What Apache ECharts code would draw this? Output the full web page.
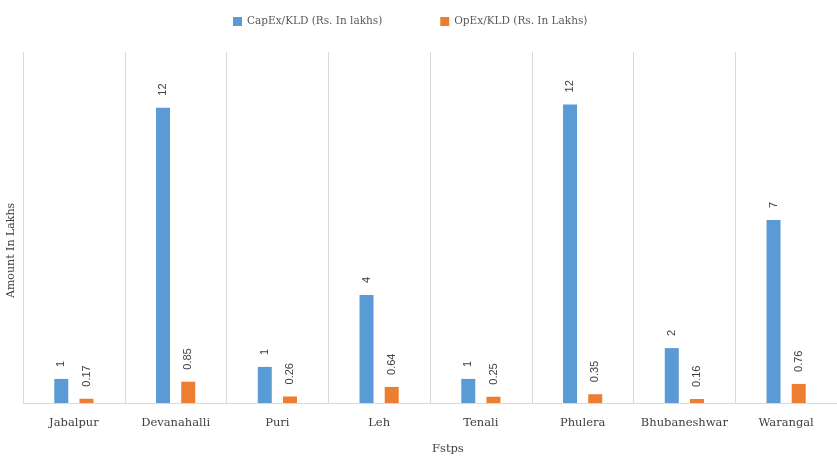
<!DOCTYPE html>
<html>
<head>
<meta charset="utf-8">
<script src="https://cdn.jsdelivr.net/npm/echarts@6/dist/echarts.min.js"></script>
<style>
html,body{margin:0;padding:0;background:#fff;}
#chart{width:837px;height:456px;}
</style>
</head>
<body>
<div id="chart"></div>
<script>
var categories = ["Jabalpur","Devanahalli","Puri","Leh","Tenali","Phulera","Bhubaneshwar","Warangal"];
var capexValues = [0.96, 11.78, 1.44, 4.31, 0.96, 11.91, 2.19, 7.30];
var opexValues = [0.17, 0.85, 0.26, 0.64, 0.25, 0.35, 0.16, 0.76];
var seriesNames = ["CapEx/KLD (Rs. In lakhs)", "OpEx/KLD (Rs. In Lakhs)"];
var xTitle = "Fstps";
var yTitle = "Amount In Lakhs";

var serif = "'DejaVu Serif', serif";
var chart = echarts.init(document.getElementById('chart'), null, {renderer:'canvas'});
var labelBase = {
  show: true, position: 'top', rotate: 90, distance: 12, align: 'left', verticalAlign: 'middle',
  fontFamily: "'Liberation Sans', Arial, sans-serif", fontSize: 11, color: '#404040'
};
chart.setOption({
  animation: false,
  backgroundColor: '#ffffff',
  legend: {
    top: 11, left: 228, itemWidth: 9, itemHeight: 9, itemGap: 58, icon: 'rect',
    textStyle: {fontFamily: serif, fontSize: 10.5, color: '#595959'},
    data: seriesNames
  },
  grid: {left: 23, right: -5, top: 52, bottom: 53, containLabel: false},
  xAxis: {
    type: 'category', data: categories,
    axisLine: {lineStyle: {color: '#d9d9d9'}},
    axisTick: {show: false},
    axisLabel: {interval: 0, fontFamily: serif, fontSize: 11.5, color: '#404040', margin: 14},
    splitLine: {show: true, interval: 0, lineStyle: {color: '#d9d9d9', width: 1}}
  },
  yAxis: {
    type: 'value', min: 0, max: 14, interval: 2,
    axisLine: {show: false}, axisTick: {show: false}, axisLabel: {show: false},
    splitLine: {show: false}
  },
  graphic: [
    {type: 'text', left: 432, top: 443, style: {text: xTitle, font: "11.5px 'DejaVu Serif'", fill: '#404040'}},
    {type: 'text', x: 6, y: 298, rotation: Math.PI/2, style: {text: yTitle, font: "11px 'DejaVu Serif'", fill: '#404040'}}
  ],
  series: [
    {name: seriesNames[0], type: 'bar', data: capexValues, barWidth: 14, barGap: '80%',
     itemStyle: {color: '#5b9bd5'},
     label: Object.assign({}, labelBase, {formatter: function(p){return Math.round(p.value).toString();}})},
    {name: seriesNames[1], type: 'bar', data: opexValues, barWidth: 14,
     itemStyle: {color: '#ed7d31'},
     label: Object.assign({}, labelBase, {formatter: function(p){return p.value.toFixed(2);}})}
  ]
});
</script>
</body>
</html>
